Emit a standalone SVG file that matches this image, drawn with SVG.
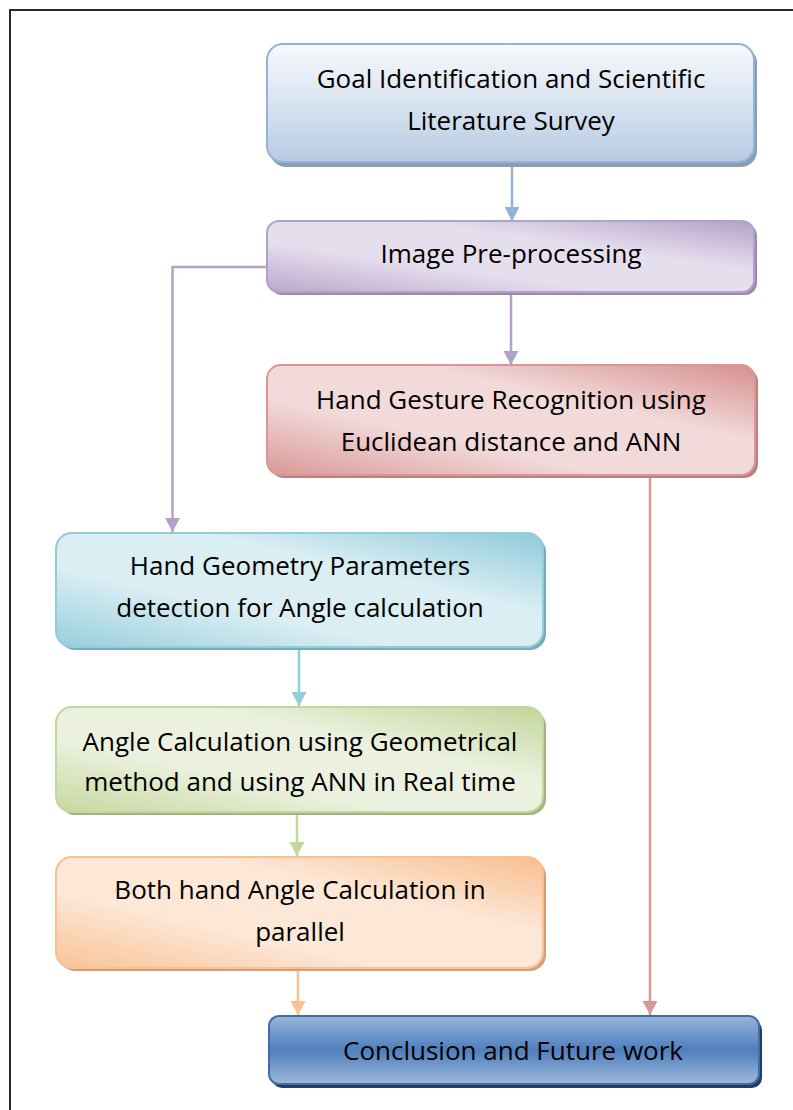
<svg xmlns="http://www.w3.org/2000/svg" width="793" height="1110" viewBox="0 0 793 1110">
  <defs>
    <!-- box fills -->
    <linearGradient id="gBlue" x1="0" y1="0" x2="0" y2="1">
      <stop offset="0" stop-color="#F7F9FC"/>
      <stop offset="0.45" stop-color="#DCE6F2"/>
      <stop offset="1" stop-color="#B7CBE3"/>
    </linearGradient>
    <linearGradient id="gPurple" x1="1" y1="0" x2="0" y2="1">
      <stop offset="0" stop-color="#B3A1C9"/>
      <stop offset="0.35" stop-color="#E5DEED"/>
      <stop offset="0.65" stop-color="#E5DEED"/>
      <stop offset="1" stop-color="#B9A8CC"/>
    </linearGradient>
    <linearGradient id="gRed" x1="1" y1="0" x2="0" y2="1">
      <stop offset="0" stop-color="#D68F8E"/>
      <stop offset="0.35" stop-color="#F2DADA"/>
      <stop offset="0.65" stop-color="#F2DADA"/>
      <stop offset="1" stop-color="#DA9897"/>
    </linearGradient>
    <linearGradient id="gTeal" x1="1" y1="0" x2="0" y2="1">
      <stop offset="0" stop-color="#8FCADB"/>
      <stop offset="0.35" stop-color="#DAEEF3"/>
      <stop offset="0.65" stop-color="#DAEEF3"/>
      <stop offset="1" stop-color="#97CEDD"/>
    </linearGradient>
    <linearGradient id="gGreen" x1="1" y1="0" x2="0" y2="1">
      <stop offset="0" stop-color="#C2D59A"/>
      <stop offset="0.35" stop-color="#EBF1DE"/>
      <stop offset="0.65" stop-color="#EBF1DE"/>
      <stop offset="1" stop-color="#C6D8A0"/>
    </linearGradient>
    <linearGradient id="gOrange" x1="1" y1="0" x2="0" y2="1">
      <stop offset="0" stop-color="#F9BE8E"/>
      <stop offset="0.35" stop-color="#FDE8D8"/>
      <stop offset="0.65" stop-color="#FDE8D8"/>
      <stop offset="1" stop-color="#FAC396"/>
    </linearGradient>
    <linearGradient id="gNavy" x1="0" y1="0" x2="0" y2="1">
      <stop offset="0" stop-color="#98B5D9"/>
      <stop offset="0.5" stop-color="#4F7FBD"/>
      <stop offset="1" stop-color="#9DB8DB"/>
    </linearGradient>

    <!-- arrowheads -->
    <marker id="aBlue" markerUnits="userSpaceOnUse" markerWidth="16" markerHeight="16" refX="14" refY="7.5" orient="auto">
      <path d="M0,0 L14,7.5 L0,15 z" fill="#95B3D7"/>
    </marker>
    <marker id="aPurple" markerUnits="userSpaceOnUse" markerWidth="16" markerHeight="16" refX="14" refY="7.5" orient="auto">
      <path d="M0,0 L14,7.5 L0,15 z" fill="#B3A2C7"/>
    </marker>
    <marker id="aRed" markerUnits="userSpaceOnUse" markerWidth="16" markerHeight="16" refX="14" refY="7.5" orient="auto">
      <path d="M0,0 L14,7.5 L0,15 z" fill="#D99694"/>
    </marker>
    <marker id="aTeal" markerUnits="userSpaceOnUse" markerWidth="16" markerHeight="16" refX="14" refY="7.5" orient="auto">
      <path d="M0,0 L14,7.5 L0,15 z" fill="#92CDDC"/>
    </marker>
    <marker id="aGreen" markerUnits="userSpaceOnUse" markerWidth="16" markerHeight="16" refX="14" refY="7.5" orient="auto">
      <path d="M0,0 L14,7.5 L0,15 z" fill="#C3D69B"/>
    </marker>
    <marker id="aOrange" markerUnits="userSpaceOnUse" markerWidth="16" markerHeight="16" refX="14" refY="7.5" orient="auto">
      <path d="M0,0 L14,7.5 L0,15 z" fill="#FAC090"/>
    </marker>
  </defs>

  <style>
    .lbl { font-family: "Open Sans", "Liberation Sans", sans-serif; font-size: 26px; fill: #000; text-anchor: middle; }
    .box { stroke-width: 2; }
    .shadow { stroke: none; }
    .conn { fill: none; stroke-width: 2.5; }
  </style>

  <!-- page frame -->
  <rect x="10" y="10" width="800" height="1120" fill="#FFFFFF" stroke="#111" stroke-width="1.8"/>

  <!-- connectors -->
  <g id="connectors">
    <line class="conn" x1="512" y1="163" x2="512" y2="221" stroke="#95B3D7" marker-end="url(#aBlue)"/>
    <line class="conn" x1="511" y1="292" x2="511" y2="365" stroke="#B3A2C7" marker-end="url(#aPurple)"/>
    <polyline class="conn" points="268,267 172.5,267 172.5,532" stroke="#B3A2C7" marker-end="url(#aPurple)"/>
    <line class="conn" x1="650" y1="475" x2="650" y2="1015" stroke="#D99694" marker-end="url(#aRed)"/>
    <line class="conn" x1="299" y1="647" x2="299" y2="706" stroke="#92CDDC" marker-end="url(#aTeal)"/>
    <line class="conn" x1="297" y1="812" x2="297" y2="856" stroke="#C3D69B" marker-end="url(#aGreen)"/>
    <line class="conn" x1="298" y1="968" x2="298" y2="1015" stroke="#FAC090" marker-end="url(#aOrange)"/>
  </g>

  <!-- Goal identification -->
  <g id="node-goal">
    <rect class="shadow" x="270" y="47" width="487" height="120" rx="16" fill="#8A9DB4"/>
    <rect class="box" x="267" y="44" width="487" height="118" rx="16" fill="url(#gBlue)" stroke="#95B3D7"/>
    <text class="lbl" x="511" y="88">Goal Identification and Scientific</text>
    <text class="lbl" x="511" y="130">Literature Survey</text>
  </g>

  <!-- Pre-processing -->
  <g id="node-preprocess">
    <rect class="shadow" x="270" y="224" width="487" height="71" rx="12" fill="#9A8AAB"/>
    <rect class="box" x="267" y="221" width="487" height="71" rx="12" fill="url(#gPurple)" stroke="#B3A2C7"/>
    <text class="lbl" x="511" y="263">Image Pre-processing</text>
  </g>

  <!-- Gesture recognition -->
  <g id="node-gesture">
    <rect class="shadow" x="270" y="368" width="488" height="110" rx="14" fill="#B98280"/>
    <rect class="box" x="267" y="365" width="488" height="110" rx="14" fill="url(#gRed)" stroke="#D99694"/>
    <text class="lbl" x="511" y="409">Hand Gesture Recognition using</text>
    <text class="lbl" x="511" y="451">Euclidean distance and ANN</text>
  </g>

  <!-- Geometry parameters -->
  <g id="node-geometry">
    <rect class="shadow" x="59" y="536" width="487" height="114" rx="16" fill="#7AAAB8"/>
    <rect class="box" x="56" y="533" width="487" height="114" rx="16" fill="url(#gTeal)" stroke="#92CDDC"/>
    <text class="lbl" x="300" y="575">Hand Geometry Parameters</text>
    <text class="lbl" x="300" y="617">detection for Angle calculation</text>
  </g>

  <!-- Angle calculation -->
  <g id="node-angle">
    <rect class="shadow" x="59" y="710" width="487" height="105" rx="16" fill="#A3B383"/>
    <rect class="box" x="56" y="707" width="487" height="105" rx="16" fill="url(#gGreen)" stroke="#C3D69B"/>
    <text class="lbl" x="300" y="751">Angle Calculation using Geometrical</text>
    <text class="lbl" x="300" y="791">method and using ANN in Real time</text>
  </g>

  <!-- Both hands -->
  <g id="node-bothhands">
    <rect class="shadow" x="59" y="860" width="487" height="111" rx="16" fill="#D1A07A"/>
    <rect class="box" x="56" y="857" width="487" height="111" rx="16" fill="url(#gOrange)" stroke="#FAC090"/>
    <text class="lbl" x="300" y="899">Both hand Angle Calculation in</text>
    <text class="lbl" x="300" y="941">parallel</text>
  </g>

  <!-- Conclusion -->
  <g id="node-conclusion">
    <rect class="shadow" x="272" y="1020" width="490" height="68" rx="10" fill="#243F60"/>
    <rect class="box" x="269" y="1016" width="490" height="68" rx="10" fill="url(#gNavy)" stroke="#3E6DA8"/>
    <text class="lbl" x="513" y="1060">Conclusion and Future work</text>
  </g>
</svg>
